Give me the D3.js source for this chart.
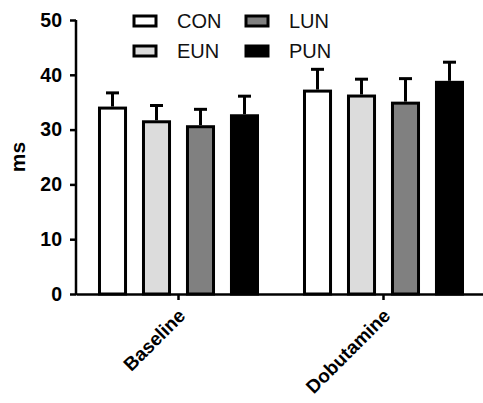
<!DOCTYPE html>
<html>
<head>
<meta charset="utf-8">
<script src="https://cdn.jsdelivr.net/npm/d3@7"></script>
<style>
body { margin: 0; background: #fff; }
text { font-family: "Liberation Sans", Arial, sans-serif; }
</style>
</head>
<body>
<svg width="483" height="403"></svg>
<script>
const conditions = ["Baseline", "Dobutamine"];
const groups = ["CON", "EUN", "LUN", "PUN"];
const groupColors = ["#ffffff", "#dcdcdc", "#808080", "#000000"];
const meanBaseline = [34.2, 31.7, 30.8, 32.8];
const meanDobutamine = [37.3, 36.4, 35.1, 38.9];
const errBaseline = [2.5, 2.7, 2.9, 3.3];
const errDobutamine = [3.7, 2.8, 4.2, 3.4];
const yTicks = [0, 10, 20, 30, 40, 50];

let svg = d3.select("svg");

let margin = { top: 20, left: 76, right: -3, bottom: 109 };
let width = 483 - margin.left - margin.right,
    height = 403 - margin.top - margin.bottom;

let rows = [];
conditions.forEach((c, i) => {
    let means = i == 0 ? meanBaseline : meanDobutamine;
    let errs = i == 0 ? errBaseline : errDobutamine;
    groups.forEach((g, j) => {
        rows.push({ cond: c, group: g, mean: means[j], err: errs[j], color: groupColors[j] });
    });
});

let plot = svg.append("g")
    .attr("transform", "translate(" + margin.left + "," + margin.top + ")");

let x0 = d3.scaleBand()
    .domain(conditions)
    .range([0, width]);

let x1 = d3.scaleBand()
    .domain(groups)
    .range([0, x0.bandwidth()])
    .paddingInner(0.34)
    .paddingOuter(0.5);

let y = d3.scaleLinear()
    .domain([0, 50])
    .range([height, 0]);

// error bars (drawn first so bar stroke sits on top)
let eb = plot.selectAll(".eb")
    .data(rows)
    .enter()
    .append("g")
    .attr("transform", d => "translate(" + (x0(d.cond) + x1(d.group) + x1.bandwidth() / 2) + ",0)");

eb.append("line")
    .attr("x1", 0).attr("x2", 0)
    .attr("y1", d => y(d.mean))
    .attr("y2", d => y(d.mean + d.err))
    .attr("stroke", "#000")
    .attr("stroke-width", 3);

eb.append("line")
    .attr("x1", -6.5).attr("x2", 6.5)
    .attr("y1", d => y(d.mean + d.err))
    .attr("y2", d => y(d.mean + d.err))
    .attr("stroke", "#000")
    .attr("stroke-width", 3);

// bars
plot.selectAll(".bar")
    .data(rows)
    .enter()
    .append("rect")
    .attr("x", d => x0(d.cond) + x1(d.group) + 1.5)
    .attr("y", d => y(d.mean) + 1.5)
    .attr("width", x1.bandwidth() - 3)
    .attr("height", d => height - y(d.mean) - 1.5)
    .attr("fill", d => d.color)
    .attr("stroke", "#000")
    .attr("stroke-width", 3);

// y axis
let yAxis = plot.append("g")
    .call(d3.axisLeft(y).tickValues(yTicks).tickSize(6).tickPadding(8).tickSizeOuter(0));
yAxis.select(".domain").attr("stroke-width", 2.5).attr("d", "M0," + (height + 1) + "V" + y(50));
yAxis.selectAll(".tick line").attr("stroke-width", 2.5);
yAxis.selectAll(".tick text")
    .style("font-size", "19.5px")
    .style("font-weight", "bold")
    .style("font-family", "'Liberation Sans', Arial, sans-serif")
    .attr("fill", "#000");

// x axis
let xAxis = plot.append("g")
    .attr("transform", "translate(0," + height + ")")
    .call(d3.axisBottom(x0).tickSize(6).tickSizeOuter(0).tickFormat(""));
xAxis.select(".domain").attr("stroke-width", 2.5);
xAxis.selectAll(".tick line").attr("stroke-width", 2.5);

plot.selectAll(".xlab")
    .data(conditions)
    .enter()
    .append("text")
    .attr("transform", d => "translate(" + (x0(d) + x0.bandwidth() / 2 + 8) + "," + (height + 23) + ") rotate(-45)")
    .attr("text-anchor", "end")
    .style("font-size", "19px")
    .style("font-weight", "bold")
    .text(d => d);

// y label
svg.append("text")
    .attr("transform", "translate(25," + (margin.top + y(25)) + ") rotate(-90)")
    .attr("text-anchor", "middle")
    .style("font-size", "21px")
    .style("font-weight", "bold")
    .text("ms");

// legend
let legend = svg.append("g");
let legItems = legend.selectAll(".leg")
    .data(groups)
    .enter()
    .append("g")
    .attr("transform", (d, i) => "translate(" + (134 + Math.floor(i / 2) * 112) + "," + (16 + (i % 2) * 30) + ")");

legItems.append("rect")
    .attr("width", 22)
    .attr("height", 10)
    .attr("fill", (d, i) => groupColors[i])
    .attr("stroke", "#000")
    .attr("stroke-width", 3);

legItems.append("text")
    .attr("x", 43)
    .attr("y", 12)
    .style("font-size", "20px")
    .attr("fill", "#111")
    .text(d => d);
</script>
</body>
</html>
